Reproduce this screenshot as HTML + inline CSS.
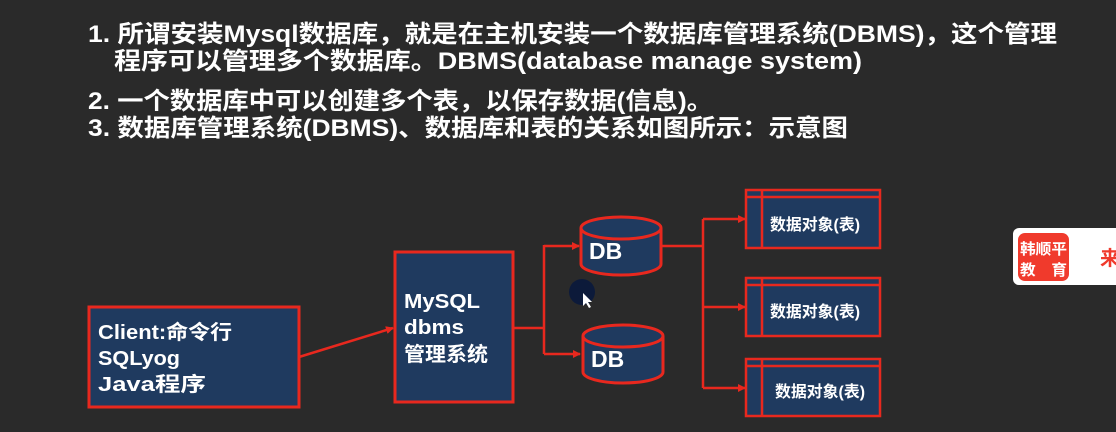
<!DOCTYPE html>
<html><head><meta charset="utf-8"><style>
html,body{margin:0;padding:0;background:#2a2a2a;}
svg{display:block;}
text{font-family:"Liberation Sans","Noto Sans CJK SC",sans-serif;font-weight:bold;fill:#fff;}
</style></head><body>
<svg width="1116" height="432" viewBox="0 0 1116 432" xmlns="http://www.w3.org/2000/svg">
<defs>
<marker id="ar" markerWidth="8" markerHeight="8" refX="7" refY="4" orient="auto" markerUnits="userSpaceOnUse">
<path d="M0,0 L8,4 L0,8 z" fill="#e8281e"/></marker>
</defs>
<rect width="1116" height="432" fill="#2a2a2a"/>
<g font-size="24">
<text x="88" y="42" textLength="969" lengthAdjust="spacingAndGlyphs">1. 所谓安装Mysql数据库，就是在主机安装一个数据库管理系统(DBMS)，这个管理</text>
<text x="114" y="69" textLength="748" lengthAdjust="spacingAndGlyphs">程序可以管理多个数据库。DBMS(database manage system)</text>
<text x="88" y="109" textLength="625" lengthAdjust="spacingAndGlyphs">2. 一个数据库中可以创建多个表，以保存数据(信息)。</text>
<text x="88" y="136" textLength="760" lengthAdjust="spacingAndGlyphs">3. 数据库管理系统(DBMS)、数据库和表的关系如图所示：示意图</text>
</g>
<g stroke="#e8281e" stroke-width="3" fill="#1f3a5f">
<rect x="89" y="307" width="210" height="100"/>
<rect x="395" y="252" width="118" height="150"/>
</g>
<g font-size="20">
<text x="98" y="339" textLength="134" lengthAdjust="spacingAndGlyphs">Client:命令行</text>
<text x="98" y="365" textLength="82" lengthAdjust="spacingAndGlyphs">SQLyog</text>
<text x="98" y="391" textLength="108" lengthAdjust="spacingAndGlyphs">Java程序</text>
<text x="404" y="308" textLength="76" lengthAdjust="spacingAndGlyphs">MySQL</text>
<text x="404" y="334" textLength="60" lengthAdjust="spacingAndGlyphs">dbms</text>
<text x="404" y="361" textLength="84" lengthAdjust="spacingAndGlyphs">管理系统</text>
</g>
<g stroke="#e8281e" stroke-width="2.5" fill="none">
<line x1="299" y1="357" x2="393" y2="328" marker-end="url(#ar)"/>
<polyline points="513,328 544,328"/>
<line x1="544" y1="245" x2="544" y2="354"/>
<line x1="544" y1="246" x2="579" y2="246" marker-end="url(#ar)"/>
<line x1="544" y1="354" x2="580" y2="354" marker-end="url(#ar)"/>
<line x1="661" y1="246" x2="703" y2="246"/>
<line x1="703" y1="219" x2="703" y2="388"/>
<line x1="703" y1="219" x2="745" y2="219" marker-end="url(#ar)"/>
<line x1="703" y1="307" x2="745" y2="307" marker-end="url(#ar)"/>
<line x1="703" y1="388" x2="745" y2="388" marker-end="url(#ar)"/>
</g>
<g stroke="#e8281e" stroke-width="3" fill="#1f3a5f">
<path d="M581,228 L581,264 A40,11 0 0 0 661,264 L661,228"/>
<ellipse cx="621" cy="228" rx="40" ry="11"/>
<path d="M583,336 L583,372 A40,11 0 0 0 663,372 L663,336"/>
<ellipse cx="623" cy="336" rx="40" ry="11"/>
</g>
<text x="589" y="259" font-size="23">DB</text>
<text x="591" y="367" font-size="23">DB</text>
<g stroke="#e8281e" stroke-width="2.5" fill="#1f3a5f">
<rect x="746" y="190" width="134" height="58"/>
<line x1="746" y1="197" x2="880" y2="197"/><line x1="762" y1="190" x2="762" y2="248"/>
<rect x="746" y="278" width="134" height="58"/>
<line x1="746" y1="285" x2="880" y2="285"/><line x1="762" y1="278" x2="762" y2="336"/>
<rect x="746" y="359" width="134" height="57"/>
<line x1="746" y1="366" x2="880" y2="366"/><line x1="762" y1="359" x2="762" y2="416"/>
</g>
<g font-size="16">
<text x="770" y="230" textLength="90" lengthAdjust="spacingAndGlyphs">数据对象(表)</text>
<text x="770" y="317" textLength="90" lengthAdjust="spacingAndGlyphs">数据对象(表)</text>
<text x="775" y="397" textLength="90" lengthAdjust="spacingAndGlyphs">数据对象(表)</text>
</g>
<circle cx="582" cy="292" r="13" fill="#0c1a3a"/>
<path d="M583,293 l0,13 l3,-3 l3,5 l2,-1 l-3,-5 l4,0 z" fill="#fff"/>
<rect x="1013" y="228" width="110" height="57" rx="6" fill="#fff"/>
<rect x="1018" y="233" width="51" height="48" rx="7" fill="#f03a2c"/>
<g font-size="15" style="font-weight:normal">
<text x="1020" y="254" textLength="47" lengthAdjust="spacingAndGlyphs" style="fill:#fff">韩顺平</text>
<text x="1020" y="275" textLength="47" lengthAdjust="spacingAndGlyphs" style="fill:#fff">教　育</text>
</g>
<text x="1100" y="265" font-size="20" style="fill:#f03a2c">来</text>
</svg>
</body></html>
